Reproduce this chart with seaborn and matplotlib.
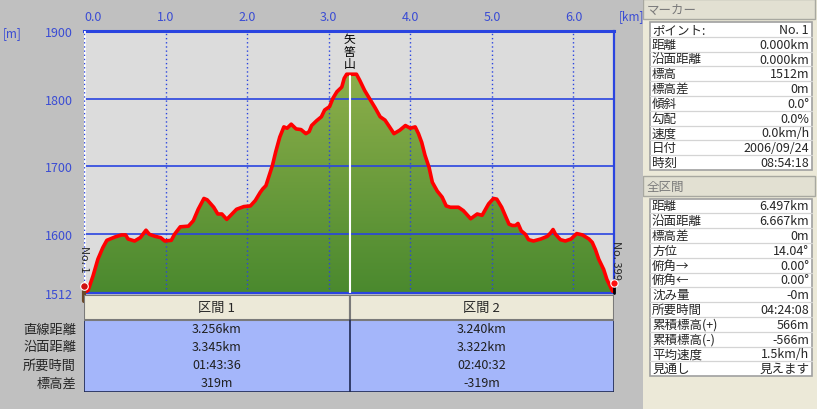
import numpy as np
import pandas as pd
import matplotlib
matplotlib.use("Agg")
import matplotlib.pyplot as plt
import seaborn as sns
from matplotlib.colors import LinearSegmentedColormap
from matplotlib.patches import Rectangle, PathPatch
from matplotlib.transforms import blended_transform_factory

# Elevation profile (distance km, elevation m)
dist_km = [0.00, 0.05, 0.11, 0.17, 0.23, 0.28, 0.38, 0.46, 0.51, 0.54, 0.62, 0.69, 0.76, 0.80,
           0.87, 0.94, 0.99, 1.07, 1.11, 1.18, 1.28, 1.34, 1.40, 1.47, 1.51, 1.59, 1.64, 1.69,
           1.75, 1.87, 1.96, 2.04, 2.10, 2.16, 2.19, 2.23, 2.27, 2.31, 2.35, 2.40, 2.45, 2.49,
           2.54, 2.60, 2.66, 2.72, 2.76, 2.79, 2.85, 2.91, 2.95, 3.01, 3.05, 3.10, 3.16, 3.19,
           3.22, 3.34, 3.38, 3.44, 3.50, 3.57, 3.63, 3.69, 3.74, 3.80, 3.87, 3.94, 4.00, 4.06,
           4.10, 4.14, 4.18, 4.23, 4.27, 4.33, 4.39, 4.44, 4.49, 4.59, 4.65, 4.74, 4.82, 4.88,
           4.96, 5.02, 5.06, 5.12, 5.17, 5.21, 5.25, 5.29, 5.32, 5.36, 5.41, 5.45, 5.51, 5.60,
           5.68, 5.72, 5.75, 5.78, 5.84, 5.90, 5.97, 6.04, 6.11, 6.19, 6.23, 6.27, 6.31, 6.37,
           6.41, 6.47, 6.497]
elev_m = [1512, 1516, 1537, 1562, 1579, 1590, 1595, 1598, 1598, 1592, 1589, 1594, 1605, 1599,
          1596, 1594, 1589, 1590, 1599, 1610, 1611, 1619, 1636, 1652, 1650, 1639, 1629, 1629,
          1621, 1636, 1640, 1641, 1649, 1661, 1666, 1671, 1686, 1701, 1721, 1743, 1758, 1756,
          1762, 1755, 1754, 1748, 1751, 1760, 1767, 1773, 1783, 1788, 1800, 1810, 1817, 1830,
          1836, 1836, 1827, 1812, 1800, 1786, 1773, 1768, 1759, 1748, 1753, 1760, 1756, 1758,
          1748, 1735, 1716, 1698, 1676, 1663, 1654, 1641, 1639, 1639, 1634, 1622, 1629, 1627,
          1644, 1652, 1651, 1639, 1625, 1614, 1612, 1612, 1615, 1604, 1599, 1591, 1589, 1592,
          1596, 1601, 1606, 1599, 1591, 1589, 1592, 1600, 1598, 1592, 1587, 1576, 1562, 1547,
          1532, 1517, 1512]

total_km = 6.497
summit_km = 3.256
summit_m = 1836
summit_name = "矢筈山"
x_ticks = [0, 1, 2, 3, 4, 5, 6]
x_tick_labels = ["0.0", "1.0", "2.0", "3.0", "4.0", "5.0", "6.0"]
y_ticks = [1512, 1600, 1700, 1800, 1900]
y_grid = [1600, 1700, 1800]

# Section table
seg_names = ["区間 1", "区間 2"]
seg_rows = ["直線距離", "沿面距離", "所要時間", "標高差"]
seg1_values = ["3.256km", "3.345km", "01:43:36", "319m"]
seg2_values = ["3.240km", "3.322km", "02:40:32", "-319m"]

# Side panel
marker_labels = ["ポイント:", "距離", "沿面距離", "標高", "標高差", "傾斜", "勾配", "速度", "日付", "時刻"]
marker_values = ["No. 1", "0.000km", "0.000km", "1512m", "0m", "0.0°", "0.0%", "0.0km/h",
                 "2006/09/24", "08:54:18"]
total_labels = ["距離", "沿面距離", "標高差", "方位", "俯角→", "俯角←", "沈み量", "所要時間",
                "累積標高(+)", "累積標高(-)", "平均速度", "見通し"]
total_values = ["6.497km", "6.667km", "0m", "14.04°", "0.00°", "0.00°", "-0m", "04:24:08",
                "566m", "-566m", "1.5km/h", "見えます"]

sns.set_style("white")
plt.rcParams["font.family"] = ["Noto Sans CJK JP", "DejaVu Sans"]

BLUE = "#2a44e0"
BLUE_TXT = "#3a4cd4"
W, H = 817, 410


def box(l, t, r, b):
    return [l / W, 1 - b / H, (r - l) / W, (b - t) / H]


fig = plt.figure(figsize=(W / 100, H / 100), dpi=100, facecolor="#c0c0c0")

# ---- profile ----
ax = fig.add_axes(box(84, 32, 614, 294))
ax.set_facecolor("#dcdcdc")
df = pd.DataFrame({"km": dist_km, "m": elev_m})

poly = ax.fill_between(df["km"], df["m"], y_ticks[0], color="none", lw=0)
cmap = LinearSegmentedColormap.from_list("fill", ["#4a892e", "#9ab650"])
im = ax.imshow(np.linspace(0, 1, 256).reshape(-1, 1), extent=[0, total_km, y_ticks[0], y_ticks[-1]],
               origin="lower", aspect="auto", cmap=cmap, zorder=2)
clip = PathPatch(poly.get_paths()[0], transform=ax.transData, fc="none", ec="none")
ax.add_patch(clip)
im.set_clip_path(clip)

for v in y_grid:
    ax.axhline(v, color=BLUE, lw=1.2, zorder=3)
for k in x_ticks[1:]:
    ax.axvline(k, color=BLUE, lw=1.0, ls=(0, (1, 2)), zorder=3)
ax.axvline(0, color="white", lw=2, zorder=3)
ax.axvline(0, color=BLUE, lw=1.0, ls=(0, (1, 2)), zorder=3)

sns.lineplot(data=df, x="km", y="m", ax=ax, color="#ff0000", lw=2.6, sort=False, zorder=4)

ax.plot([summit_km, summit_km], [y_ticks[0], summit_m - 2], color="white", lw=1.5, zorder=5)
ax.text(summit_km, summit_m + 6, "\n".join(summit_name), ha="center", va="bottom",
        fontsize=8.5, linespacing=0.95, color="black", zorder=6)

# start / end markers
ax.text(0.0, 1563, "No. 1", rotation=270, ha="center", va="center", fontsize=8, clip_on=False, zorder=6)
ax.text(total_km + 0.02, 1562, "No. 399", rotation=270, ha="center", va="center", fontsize=8,
        clip_on=False, zorder=6)
ax.plot([0, 0], [1500, 1515], color="#6b4a2a", lw=3, clip_on=False, zorder=6)
ax.scatter([0], [1522], s=30, color="#d01010", edgecolor="white", lw=0.8, clip_on=False, zorder=7)
ax.plot([total_km, total_km], [1512, 1525], color="black", lw=2, clip_on=False, zorder=6)
ax.scatter([total_km], [1527], s=28, color="#ff1010", edgecolor="white", lw=0.8, clip_on=False, zorder=7)

ax.set_xlim(0, total_km)
ax.set_ylim(y_ticks[0], y_ticks[-1])
ax.xaxis.tick_top()
ax.set_xticks(x_ticks)
ax.set_xticklabels(x_tick_labels)
ax.get_xticklabels()[0].set_horizontalalignment("left")
ax.set_yticks(y_ticks)
ax.set_yticklabels([str(v) for v in y_ticks])
ax.tick_params(length=0, colors=BLUE_TXT, labelsize=9)
ax.tick_params(axis="x", pad=5.5)
ax.tick_params(axis="y", pad=8)
ax.set_xlabel("")
ax.set_ylabel("")
for side in ["top", "right", "bottom"]:
    ax.spines[side].set_color(BLUE)
ax.spines["top"].set_linewidth(2.2)
ax.spines["right"].set_linewidth(1.6)
ax.spines["bottom"].set_linewidth(1.6)
ax.spines["left"].set_visible(False)

fig.text(12 / W, 1 - 34 / H, "[m]", color=BLUE_TXT, fontsize=8.5, ha="center", va="center")
fig.text(619 / W, 1 - 17 / H, "[km]", color=BLUE_TXT, fontsize=8.5, ha="left", va="center")

# ---- section table ----
tax = fig.add_axes(box(84, 296, 614, 393))
tax.set_xlim(0, total_km)
tax.set_ylim(97, 0)
tax.axis("off")
bounds = [0, summit_km, total_km]
tax.add_patch(Rectangle((0, 25), total_km, 72, fc="#a4b6fa", ec="#1e2850", lw=1.2))
tax.plot([summit_km, summit_km], [25, 97], color="#1e2850", lw=1.2)
for j, name in enumerate(seg_names):
    x0, x1 = bounds[j], bounds[j + 1]
    tax.add_patch(Rectangle((x0, 0), x1 - x0, 25, fc="#ece9d8", ec="#7a7a7a", lw=1.5))
    tax.text((x0 + x1) / 2, 12.5, name, ha="center", va="center", fontsize=9.5)
    vals = [seg1_values, seg2_values][j]
    for i, v in enumerate(vals):
        tax.text((x0 + x1) / 2, 34 + 18 * i, v, ha="center", va="center", fontsize=9, color="#202020")
trans = blended_transform_factory(fig.transFigure, tax.transData)
for i, lab in enumerate(seg_rows):
    tax.text(76 / W, 34 + 18 * i, lab, transform=trans, ha="right", va="center", fontsize=9.5)

# ---- side panel ----
pax = fig.add_axes([643 / W, 0, (W - 643) / W, 1])
pax.set_xlim(0, W - 643)
pax.set_ylim(H, 0)
pax.axis("off")
pax.add_patch(Rectangle((0, 0), W - 643, H, fc="#ece9d8", ec="none"))


def header(y0, text):
    pax.add_patch(Rectangle((0, y0), 172, 20, fc="#e2e0d2", ec="#a8a8a0", lw=1))
    pax.text(4, y0 + 10, text, ha="left", va="center", fontsize=9, color="#7a7a7a")


def table(y0, labels, values, rh=14.8):
    n = len(labels)
    pax.add_patch(Rectangle((7, y0), 162, rh * n, fc="white", ec="#a0a0a0", lw=1.2))
    for i in range(1, n):
        pax.plot([7, 169], [y0 + rh * i] * 2, color="#d4d4d4", lw=0.9)
    for i, (lab, val) in enumerate(zip(labels, values)):
        yc = y0 + rh * (i + 0.5)
        pax.text(9, yc, lab, ha="left", va="center", fontsize=9)
        pax.text(166, yc, val, ha="right", va="center", fontsize=9)


header(0, "マーカー")
table(23, marker_labels, marker_values)
header(177, "全区間")
table(199.5, total_labels, total_values)

fig.savefig("out.png", dpi=100, facecolor=fig.get_facecolor())
